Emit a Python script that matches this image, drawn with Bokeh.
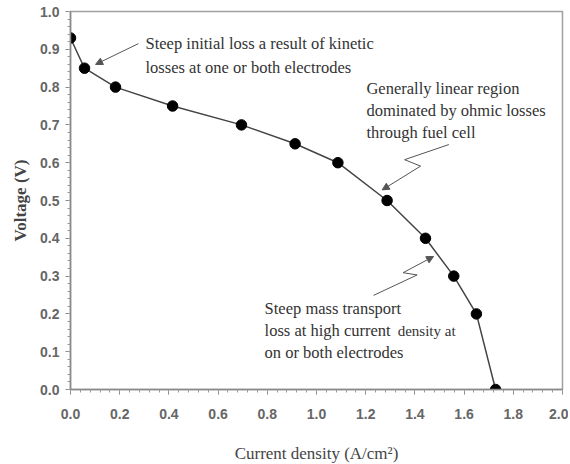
from bokeh.plotting import figure
from bokeh.models import Range1d, FixedTicker, PrintfTickFormatter, Arrow, NormalHead
from bokeh.core.properties import value
from bokeh.embed import file_html
from bokeh.resources import INLINE

# data
current_density = [0.0, 0.057, 0.183, 0.415, 0.695, 0.913, 1.087, 1.287, 1.443, 1.558, 1.650, 1.728]
voltage = [0.93, 0.85, 0.80, 0.75, 0.70, 0.65, 0.60, 0.50, 0.40, 0.30, 0.20, 0.00]
x_ticks = [0.0, 0.2, 0.4, 0.6, 0.8, 1.0, 1.2, 1.4, 1.6, 1.8, 2.0]
y_ticks = [0.0, 0.1, 0.2, 0.3, 0.4, 0.5, 0.6, 0.7, 0.8, 0.9, 1.0]

p = figure(frame_width=492, frame_height=378,
           min_border_left=70, min_border_right=6, min_border_top=11, min_border_bottom=74,
           x_range=Range1d(0, 2), y_range=Range1d(0, 1),
           output_backend="svg", toolbar_location=None, tools="")
p.background_fill_color = "white"
p.border_fill_color = "white"
p.outline_line_color = "#a0a0a0"
p.outline_line_width = 1.5
p.grid.visible = False

p.xaxis.ticker = FixedTicker(ticks=x_ticks, minor_ticks=[i * 0.04 for i in range(51)])
p.yaxis.ticker = FixedTicker(ticks=y_ticks, minor_ticks=[i * 0.02 for i in range(51)])
p.xaxis.formatter = PrintfTickFormatter(format="%.1f")
p.yaxis.formatter = PrintfTickFormatter(format="%.1f")

for ax in (p.xaxis[0], p.yaxis[0]):
    ax.axis_line_color = "#888888"
    ax.axis_line_width = 1.5
    ax.major_tick_line_color = "#888888"
    ax.minor_tick_line_color = "#999999"
    ax.major_tick_out = 5
    ax.major_tick_in = 0
    ax.minor_tick_out = 3
    ax.minor_tick_in = 0
    ax.major_label_text_font = "Liberation Sans"
    ax.major_label_text_font_style = "bold"
    ax.major_label_text_font_size = "14px"
    ax.major_label_text_color = "#666666"
    ax.axis_label_text_font = "Liberation Serif"
    ax.axis_label_text_font_size = "17px"
    ax.axis_label_text_color = "#444444"

p.xaxis.axis_label = "Current density (A/cm²)"
p.xaxis.axis_label_text_font_style = "normal"
p.xaxis.major_label_standoff = 14
p.xaxis.axis_label_standoff = 22
p.yaxis.axis_label = "Voltage (V)"
p.yaxis.axis_label_text_font_style = "bold"
p.yaxis.major_label_standoff = 6
p.yaxis.axis_label_standoff = 7

p.line(current_density, voltage, line_color="#444444", line_width=1.5)
p.scatter(current_density, voltage, size=10.5, fill_color="black", line_color="black")

txt = dict(text_font=value("Liberation Serif"), text_font_size="16.5px",
           text_color="#333333", text_baseline="middle", text_align="left")
p.text(x=[0.305, 0.305], y=[0.916, 0.853],
       text=["Steep initial loss a result of kinetic", "losses at one or both electrodes"], **txt)
p.text(x=[1.203, 1.203, 1.203], y=[0.796, 0.738, 0.680],
       text=["Generally linear region", "dominated by ohmic losses", "through fuel cell"], **txt)
p.text(x=[0.789, 0.789, 0.789], y=[0.214, 0.156, 0.098],
       text=["Steep mass transport", "loss at  high current", "on or both electrodes"], **txt)
small = dict(txt)
small["text_font_size"] = "15px"
p.text(x=[1.33], y=[0.156], text=["density at"], **small)

ac = "#555555"
# arrow 1
p.add_layout(Arrow(end=NormalHead(size=7, fill_color=ac, line_color=ac),
                   x_start=0.276, y_start=0.915, x_end=0.102, y_end=0.860,
                   line_color=ac, line_width=1))
# arrow 2 (zigzag)
p.line([1.538, 1.358, 1.423], [0.648, 0.608, 0.591], line_color=ac, line_width=1)
p.add_layout(Arrow(end=NormalHead(size=7, fill_color=ac, line_color=ac),
                   x_start=1.423, y_start=0.591, x_end=1.267, y_end=0.528,
                   line_color=ac, line_width=1))
# arrow 3 (zigzag)
p.line([1.232, 1.409, 1.352], [0.249, 0.303, 0.309], line_color=ac, line_width=1)
p.add_layout(Arrow(end=NormalHead(size=7, fill_color=ac, line_color=ac),
                   x_start=1.352, y_start=0.309, x_end=1.476, y_end=0.352,
                   line_color=ac, line_width=1))

open("out.html", "w").write(file_html(p, INLINE))
